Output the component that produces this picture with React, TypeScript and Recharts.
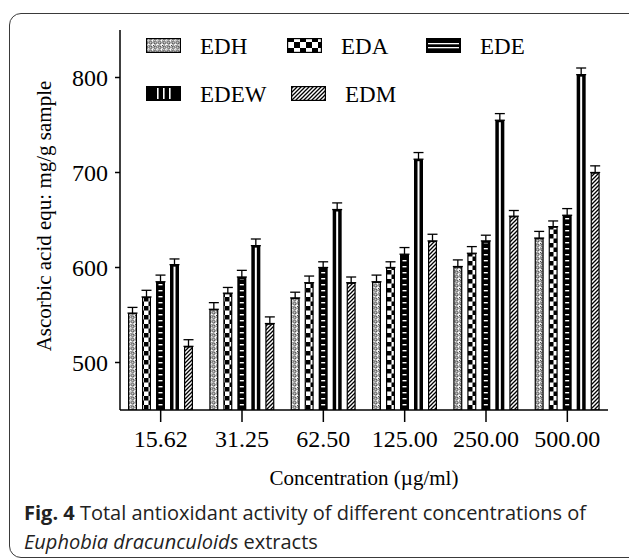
import React from "react";
import { BarChart, Bar, XAxis, YAxis, ErrorBar, Legend, Label } from "recharts";

const categories = ["15.62", "31.25", "62.50", "125.00", "250.00", "500.00"];
const seriesNames = ["EDH", "EDA", "EDE", "EDEW", "EDM"];

const edh = [552, 556, 568, 585, 601, 631];
const eda = [569, 573, 584, 600, 615, 643];
const ede = [585, 590, 600, 614, 628, 655];
const edew = [603, 623, 661, 714, 755, 803];
const edm = [517, 541, 584, 628, 654, 700];

const edhErr = [6, 7, 6, 7, 7, 7];
const edaErr = [7, 6, 7, 6, 7, 6];
const edeErr = [7, 7, 6, 7, 6, 7];
const edewErr = [6, 7, 7, 7, 7, 7];
const edmErr = [7, 7, 6, 7, 6, 7];

const yTicks = [500, 600, 700, 800];

const seriesValues = [edh, eda, ede, edew, edm];
const seriesErrors = [edhErr, edaErr, edeErr, edewErr, edmErr];

const data = categories.map((name, i) => {
  const row: any = { name };
  seriesNames.forEach((s, k) => {
    row[s] = seriesValues[k][i];
    row[s + "_err"] = [0, seriesErrors[k][i]];
  });
  return row;
});

const SERIF = "'Liberation Serif', 'Times New Roman', serif";

const makeShape = (kind: string) => (props: any) => {
  const { x, y, width, height } = props;
  if (!height || height <= 0) return <g />;
  if (kind === "EDE") {
    return (
      <g>
        <rect x={x} y={y} width={width} height={height} fill="#000" />
        <rect x={x + 2.5} y={y + 2} width={width - 5} height={height - 2} fill="url(#pEDE)" />
      </g>
    );
  }
  if (kind === "EDEW") {
    return (
      <g>
        <rect x={x} y={y} width={width} height={height} fill="#000" />
        <rect x={x + width / 2 - 1} y={y + 2} width={2} height={height - 2} fill="#fff" />
      </g>
    );
  }
  return (
    <rect
      x={x + 0.6}
      y={y + 0.6}
      width={width - 1.2}
      height={height - 0.6}
      fill={`url(#p${kind})`}
      stroke="#000"
      strokeWidth={1.2}
    />
  );
};

const legendPos = [
  { x: 146, y: 38 },
  { x: 287, y: 38 },
  { x: 426, y: 38 },
  { x: 146, y: 86 },
  { x: 291, y: 86 },
];

const Swatch = ({ kind, x, y }: { kind: string; x: number; y: number }) => {
  const w = 35;
  const h = 15;
  if (kind === "EDE") {
    return (
      <g>
        <rect x={x} y={y} width={w} height={h} fill="#000" />
        <rect x={x + 2} y={y + 5} width={w - 4} height={1.3} fill="#fff" />
        <rect x={x + 2} y={y + 9} width={w - 4} height={1.3} fill="#fff" />
      </g>
    );
  }
  if (kind === "EDEW") {
    return (
      <g>
        <rect x={x} y={y} width={w} height={h} fill="#000" />
        {[11, 17, 23].map((d) => (
          <rect key={d} x={x + d} y={y + 2} width={1.6} height={h - 4} fill="#fff" />
        ))}
      </g>
    );
  }
  const fill = kind === "EDA" ? "url(#pEDAL)" : `url(#p${kind})`;
  return <rect x={x + 0.6} y={y + 0.6} width={w - 1.2} height={h - 1.2} fill={fill} stroke="#000" strokeWidth={1.2} />;
};

const LegendContent = () => (
  <svg width={629} height={110} style={{ display: "block" }}>
    {seriesNames.map((s, i) => (
      <g key={s}>
        <Swatch kind={s} x={legendPos[i].x} y={legendPos[i].y} />
        <text
          x={legendPos[i].x + 54}
          y={legendPos[i].y + 8}
          dominantBaseline="central"
          fontFamily={SERIF}
          fontSize={23}
          fill="#000"
        >
          {s}
        </text>
      </g>
    ))}
  </svg>
);

export default function App() {
  return (
    <div style={{ position: "absolute", left: 0, top: 0, width: 629, height: 560, background: "#fff", overflow: "hidden" }}>
      <div
        style={{
          position: "absolute",
          left: 9,
          top: 13,
          width: 640,
          height: 543,
          border: "1.5px solid #3a3a3a",
          borderRadius: 12,
        }}
      />
      <div style={{ position: "absolute", left: 0, top: 0 }}>
        <BarChart
          width={629}
          height={500}
          data={data}
          margin={{ top: 30, right: 21, left: 0, bottom: 0 }}
          barSize={9}
          barGap={5}
        >
          <defs>
            <pattern id="pEDH" patternUnits="userSpaceOnUse" width={4.5} height={4.5}>
              <rect width={4.5} height={4.5} fill="#fff" />
              <circle cx={2.25} cy={2.25} r={1.4} fill="none" stroke="#000" strokeWidth={0.9} />
              <rect x={0} y={0} width={0.8} height={0.8} fill="#000" />
            </pattern>
            <pattern id="pEDA" patternUnits="userSpaceOnUse" width={9} height={9}>
              <rect width={9} height={9} fill="#fff" />
              <rect x={0} y={0} width={4.5} height={4.5} fill="#000" />
              <rect x={4.5} y={4.5} width={4.5} height={4.5} fill="#000" />
            </pattern>
            <pattern id="pEDAL" patternUnits="userSpaceOnUse" width={12} height={12}>
              <rect width={12} height={12} fill="#fff" />
              <rect x={0} y={0} width={6} height={6} fill="#000" />
              <rect x={6} y={6} width={6} height={6} fill="#000" />
            </pattern>
            <pattern id="pEDE" patternUnits="userSpaceOnUse" width={4} height={6}>
              <rect width={4} height={6} fill="#000" />
              <rect x={0} y={2} width={4} height={1.4} fill="#fff" />
            </pattern>
            <pattern id="pEDM" patternUnits="userSpaceOnUse" width={4} height={4}>
              <rect width={4} height={4} fill="#fff" />
              <path d="M-1,1 l2,-2 M0,4 l4,-4 M3,5 l2,-2" stroke="#000" strokeWidth={1.3} />
            </pattern>
          </defs>
          <XAxis
            dataKey="name"
            height={90}
            stroke="#000"
            strokeWidth={1.5}
            tickSize={12}
            tickMargin={8}
            tick={{ fill: "#000", fontFamily: SERIF, fontSize: 24 }}
            tickLine={{ stroke: "#000", strokeWidth: 1.5 }}
          >
            <Label
              content={(p: any) => {
                const vb = p.viewBox || { x: 120, y: 410, width: 488 };
                return (
                  <text
                    x={vb.x + vb.width / 2}
                    y={vb.y + 75}
                    textAnchor="middle"
                    fontFamily={SERIF}
                    fontSize={21}
                    fill="#000"
                  >
                    Concentration (µg/ml)
                  </text>
                );
              }}
            />
          </XAxis>
          <YAxis
            width={120}
            domain={[450, 850]}
            ticks={yTicks}
            allowDataOverflow
            stroke="#000"
            strokeWidth={1.5}
            tickSize={5}
            tickMargin={7}
            tick={{ fill: "#000", fontFamily: SERIF, fontSize: 24 }}
            tickLine={{ stroke: "#000", strokeWidth: 1.5 }}
          >
            <Label
              content={(p: any) => {
                const vb = p.viewBox || { y: 30, height: 380 };
                const cy = vb.y + vb.height / 2 - 4;
                return (
                  <text
                    x={44}
                    y={cy}
                    transform={`rotate(-90, 44, ${cy})`}
                    textAnchor="middle"
                    dominantBaseline="central"
                    fontFamily={SERIF}
                    fontSize={21}
                    fill="#000"
                  >
                    Ascorbic acid equ: mg/g sample
                  </text>
                );
              }}
            />
          </YAxis>
          <Legend
            layout="vertical"
            align="center"
            verticalAlign="middle"
            wrapperStyle={{ top: 0, left: 0, width: 629, height: 110 }}
            content={() => <LegendContent />}
          />
          {seriesNames.map((s) => (
            <Bar key={s} dataKey={s} name={s} isAnimationActive={false} shape={makeShape(s)}>
              <ErrorBar dataKey={s + "_err"} direction="y" width={5} stroke="#000" strokeWidth={1.3} />
            </Bar>
          ))}
        </BarChart>
      </div>
      <div
        style={{
          position: "absolute",
          left: 24,
          top: 498,
          fontFamily: "'Open Sans', sans-serif",
          fontSize: 20,
          lineHeight: "29px",
          color: "#222",
          whiteSpace: "nowrap",
        }}
      >
        <div>
          <b>Fig. 4</b> Total antioxidant activity of different concentrations of
        </div>
        <div>
          <i>Euphobia dracunculoids</i> extracts
        </div>
      </div>
    </div>
  );
}
